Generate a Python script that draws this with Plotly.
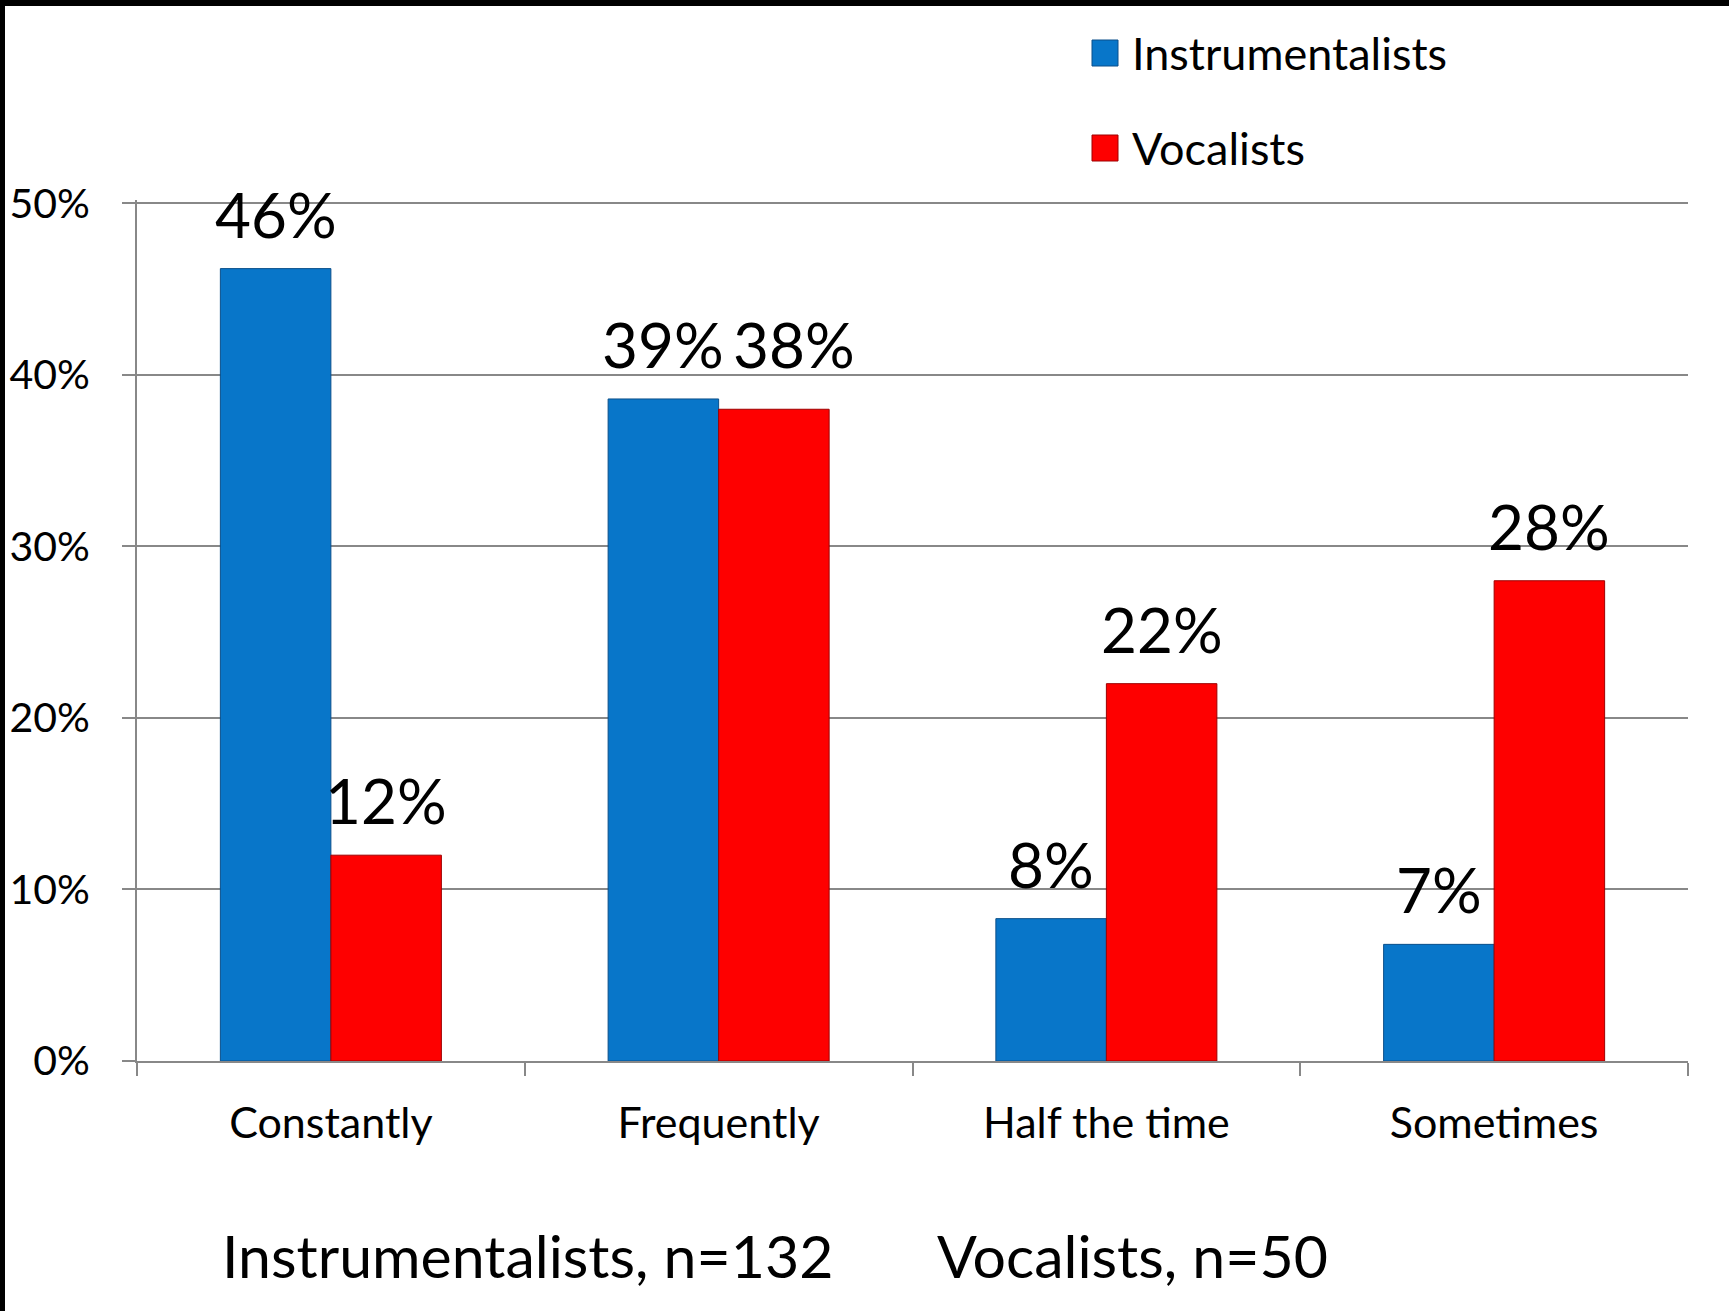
import plotly.graph_objects as go

# Survey responses: share of each group reporting the behaviour
categories = ["Constantly", "Frequently", "Half the time", "Sometimes"]
instrumentalists = [46.2, 38.6, 8.3, 6.8]   # n = 132
vocalists = [12.0, 38.0, 22.0, 28.0]        # n = 50
series_names = ["Instrumentalists", "Vocalists"]
y_ticks = [0, 10, 20, 30, 40, 50]
y_tick_labels = [f"{v}%" for v in y_ticks]
footer_left = "Instrumentalists, n=132"
footer_right = "Vocalists, n=50"

FONT = "Lato, 'Open Sans', sans-serif"
BLUE = "#0876C9"
RED = "#FE0000"
GRID = "#888888"

W, H = 1729, 1311
ML, MR, MT, MB = 137, 41, 200, 250
PW, PH = W - ML - MR, H - MT - MB
Y_TOP = 50.2   # a little headroom so the 50% gridline is drawn

fig = go.Figure()
for name, vals, col, edge in [
    (series_names[0], instrumentalists, BLUE, "#0B4F8A"),
    (series_names[1], vocalists, RED, "#9E0000"),
]:
    fig.add_trace(go.Bar(
        name=name, x=categories, y=vals,
        marker=dict(color=col, line=dict(color=edge, width=1)),
        showlegend=False,
    ))

# value labels above each bar; the two "Frequently" labels share one baseline
# and the lower one is nudged sideways so they do not collide
bar_px = PW / len(categories) * (1 - 0.43) / 2
px_per_unit = PH / Y_TOP
annotations = []
for vals, other, shift in [(instrumentalists, vocalists, -bar_px / 2),
                           (vocalists, instrumentalists, bar_px / 2)]:
    for c, v, o in zip(categories, vals, other):
        crowded = c == "Frequently" and o > v
        lift = (o - v) * px_per_unit if crowded else 0
        nudge = 20 if crowded else 0
        annotations.append(dict(
            x=c, y=v, xref="x", yref="y", text=f"{round(v)}%",
            showarrow=False, xshift=shift + nudge, yshift=16 + lift, yanchor="bottom",
            font=dict(family=FONT, size=62, color="black"),
        ))

# footer with sample sizes
footer_y = -(1255 - (MT + PH)) / PH
annotations.append(dict(x=(220 - ML) / PW, y=footer_y, xref="paper", yref="paper",
                        text=footer_left, showarrow=False, xanchor="left", yanchor="middle",
                        font=dict(family=FONT, size=59, color="black")))
annotations.append(dict(x=(935 - ML) / PW, y=footer_y, xref="paper", yref="paper",
                        text=footer_right, showarrow=False, xanchor="left", yanchor="middle",
                        font=dict(family=FONT, size=59, color="black")))

# legend: coloured squares with series names
shapes = []
legend_rows = [53, 148]
for name, col, edge, row in zip(series_names, [BLUE, RED], ["#0B4F8A", "#9E0000"], legend_rows):
    x0 = (1092 - ML) / PW
    x1 = (1118 - ML) / PW
    y0 = 1 + (MT - row - 13) / PH
    y1 = 1 + (MT - row + 13) / PH
    shapes.append(dict(type="rect", xref="paper", yref="paper", x0=x0, x1=x1, y0=y0, y1=y1,
                       fillcolor=col, line=dict(color=edge, width=1)))
    annotations.append(dict(x=(1130 - ML) / PW, y=1 + (MT - row) / PH, xref="paper", yref="paper",
                            text=name, showarrow=False, xanchor="left", yanchor="middle",
                            font=dict(family=FONT, size=45, color="black")))

# black frame along the top and left edges of the slide
shapes.append(dict(type="rect", xref="paper", yref="paper", layer="above",
                   x0=-ML / PW, x1=-(ML - 5) / PW, y0=-MB / PH, y1=1 + MT / PH,
                   fillcolor="black", line=dict(width=0)))
shapes.append(dict(type="rect", xref="paper", yref="paper", layer="above",
                   x0=-ML / PW, x1=1 + MR / PW, y0=1 + (MT - 6) / PH, y1=1 + MT / PH,
                   fillcolor="black", line=dict(width=0)))

fig.update_layout(
    width=W, height=H,
    margin=dict(l=ML, r=MR, t=MT, b=MB, pad=0, autoexpand=False),
    paper_bgcolor="white", plot_bgcolor="white",
    barmode="group", bargap=0.43, bargroupgap=0,
    font=dict(family=FONT, color="black"),
    annotations=annotations, shapes=shapes,
    xaxis=dict(
        automargin=False,
        showgrid=False, showline=True, linecolor=GRID, linewidth=2,
        ticks="outside", tickson="boundaries", ticklen=13, tickwidth=2, tickcolor=GRID,
        tickfont=dict(family=FONT, size=43, color="black"), ticklabelstandoff=23,
    ),
    yaxis=dict(
        automargin=False,
        range=[0, Y_TOP], tickvals=y_ticks, ticktext=y_tick_labels,
        showgrid=True, gridcolor=GRID, gridwidth=2,
        showline=True, linecolor=GRID, linewidth=2,
        ticks="outside", ticklen=13, tickwidth=2, tickcolor=GRID,
        tickfont=dict(family=FONT, size=41, color="black"), ticklabelstandoff=24,
        zeroline=False,
    ),
)

fig.write_html("out.html")
